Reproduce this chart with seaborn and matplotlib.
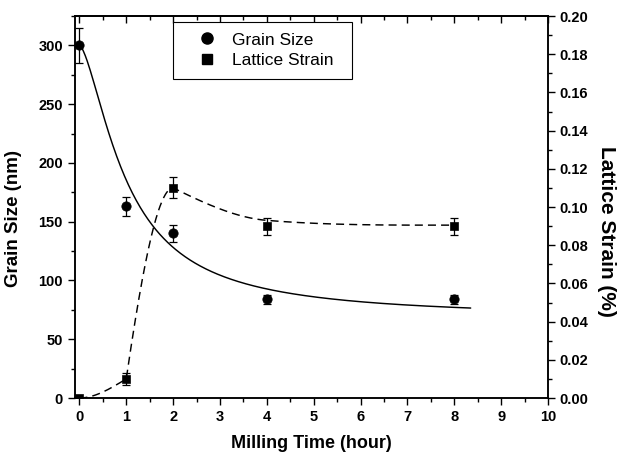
import numpy as np
import matplotlib
matplotlib.use("Agg")
import matplotlib.pyplot as plt
import seaborn as sns
from matplotlib.lines import Line2D
from matplotlib.ticker import MultipleLocator, FormatStrFormatter

# Measured points
milling_time = [0, 1, 2, 4, 8]
grain_size = [300, 163, 140, 84, 84]
grain_err = [15, 8, 7, 4, 4]
lattice_strain = [0.0, 0.010, 0.110, 0.090, 0.090]
strain_err = [0.0, 0.003, 0.0055, 0.0045, 0.0045]

# Grain size logistic fit: D(t) = A2 + (A1 - A2) / (1 + (t / t0)^p)
grain_fit_a1 = 300.0
grain_fit_a2 = 68.0
grain_fit_t0 = 1.016
grain_fit_p = 1.55
grain_fit_end = 8.35

# Strain guide curve: cubic Hermite pieces between knots (left/right slopes)
strain_knot_t = [0, 1, 2, 4, 8]
strain_knot_y = [0.0, 0.010, 0.110, 0.093, 0.0905]
strain_slope_left = [0.0, 0.015, 0.0, -0.002, 0.0]
strain_slope_right = [0.0, 0.168, -0.012, -0.002, 0.0]

legend_labels = ["Grain Size", "Lattice Strain"]


def hermite_path(xk, yk, ml, mr, n=80):
    xs, ys = [], []
    for i in range(len(xk) - 1):
        h = xk[i + 1] - xk[i]
        t = np.linspace(0, 1, n)
        h00 = 2 * t**3 - 3 * t**2 + 1
        h10 = t**3 - 2 * t**2 + t
        h01 = -2 * t**3 + 3 * t**2
        h11 = t**3 - t**2
        y = h00 * yk[i] + h10 * h * mr[i] + h01 * yk[i + 1] + h11 * h * ml[i + 1]
        xs.append(xk[i] + t * h)
        ys.append(y)
    return np.concatenate(xs), np.concatenate(ys)


sns.set_theme(style="ticks")
plt.rcParams["font.family"] = ["Liberation Sans", "DejaVu Sans"]
plt.rcParams.update({
    "text.color": "black",
    "axes.labelcolor": "black",
    "xtick.color": "black",
    "ytick.color": "black",
    "axes.edgecolor": "black",
    "axes.linewidth": 1.1,
})

fig = plt.figure(figsize=(6.17, 4.55), dpi=100)
ax = fig.add_axes([74.7 / 617, 1 - 398 / 455, (548 - 74.7) / 617, (398 - 16) / 455])
ax2 = ax.twinx()

# Grain size fit curve and points
tf = np.linspace(0, grain_fit_end, 400)
df = grain_fit_a2 + (grain_fit_a1 - grain_fit_a2) / (1 + (tf / grain_fit_t0) ** grain_fit_p)
sns.lineplot(x=tf, y=df, ax=ax, color="black", lw=1.05, sort=False, estimator=None)
ax.errorbar(milling_time, grain_size, yerr=grain_err, fmt="none", ecolor="black",
            elinewidth=0.9, capsize=3, capthick=0.9, zorder=3)
sns.scatterplot(x=milling_time, y=grain_size, ax=ax, marker="o", s=45,
                color="black", edgecolor="black", zorder=4)

# Lattice strain guide curve and points
sx, sy = hermite_path(strain_knot_t, strain_knot_y, strain_slope_left, strain_slope_right)
sns.lineplot(x=sx, y=sy, ax=ax2, color="black", lw=1.05, sort=False, estimator=None,
             linestyle=(0, (5.5, 3.5)))
ax2.errorbar(milling_time, lattice_strain, yerr=strain_err, fmt="none", ecolor="black",
             elinewidth=0.9, capsize=3, capthick=0.9, zorder=3)
sns.scatterplot(x=milling_time, y=lattice_strain, ax=ax2, marker="s", s=36,
                color="black", edgecolor="black", zorder=4)

# Axis ranges and ticks
ax.set_xlim(-0.1, 10)
ax.set_ylim(0, 325)
ax2.set_ylim(0, 0.2)

ax.xaxis.set_major_locator(MultipleLocator(1))
ax.xaxis.set_minor_locator(MultipleLocator(0.5))
ax.yaxis.set_major_locator(MultipleLocator(50))
ax.yaxis.set_minor_locator(MultipleLocator(25))
ax2.yaxis.set_major_locator(MultipleLocator(0.02))
ax2.yaxis.set_minor_locator(MultipleLocator(0.01))
ax2.yaxis.set_major_formatter(FormatStrFormatter("%.2f"))

ax.tick_params(axis="both", which="major", direction="out", length=5, width=1.0, pad=3.5)
ax.tick_params(axis="both", which="minor", direction="out", length=3, width=1.0)
ax2.tick_params(axis="y", which="major", direction="out", length=5, width=1.0, pad=3.5)
ax2.tick_params(axis="y", which="minor", direction="out", length=3, width=1.0)
for lab in ax.get_xticklabels() + ax.get_yticklabels() + ax2.get_yticklabels():
    lab.set_fontsize(10.5)
    lab.set_fontweight("bold")

top = ax.secondary_xaxis("top")
top.xaxis.set_major_locator(MultipleLocator(1))
top.xaxis.set_minor_locator(MultipleLocator(0.5))
top.tick_params(axis="x", which="major", direction="in", length=5, width=1.0, labeltop=False)
top.tick_params(axis="x", which="minor", direction="in", length=3, width=1.0)

for a in (ax, ax2):
    for s in a.spines.values():
        s.set_color("black")
        s.set_linewidth(1.1)

ax.set_xlabel("Milling Time (hour)", fontsize=13, fontweight="bold", labelpad=8)
ax.set_ylabel("Grain Size (nm)", fontsize=13.5, fontweight="bold")
ax.yaxis.set_label_coords(-0.112, 0.469)
ax2.set_ylabel("Lattice Strain (%)", fontsize=15, fontweight="bold", rotation=270,
               va="center")
ax2.yaxis.set_label_coords(1.124, 0.435)

handles = [
    Line2D([], [], marker="o", ls="none", color="black", markersize=8),
    Line2D([], [], marker="s", ls="none", color="black", markersize=7),
]
leg = ax2.legend(handles, legend_labels, loc="upper left",
                 bbox_to_anchor=(173 / 617, 1 - 22 / 455, 179 / 617, 0),
                 bbox_transform=fig.transFigure, mode="expand", borderaxespad=0,
                 borderpad=0.6, handlelength=2.7, handletextpad=0.09,
                 labelspacing=0.33, fancybox=False, framealpha=1, fontsize=12.5)
leg.get_frame().set_edgecolor("black")
leg.get_frame().set_linewidth(0.8)

fig.savefig("out.png", dpi=100)
